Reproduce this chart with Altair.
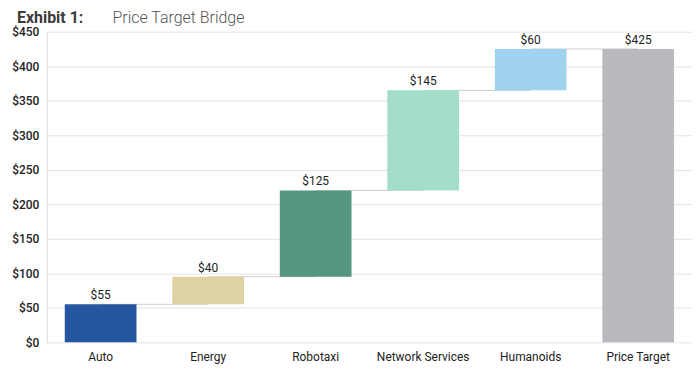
import altair as alt
import pandas as pd

categories = ["Auto", "Energy", "Robotaxi", "Network Services", "Humanoids", "Price Target"]
values = [55, 40, 125, 145, 60, 425]
colors = ["#2557a1", "#ddd2a3", "#55967f", "#a5ddcb", "#9fd3ee", "#b9babe"]
y_ticks = [0, 50, 100, 150, 200, 250, 300, 350, 400, 450]

starts, ends = [], []
run = 0
for i, v in enumerate(values):
    if i == len(values) - 1:
        starts.append(0)
        ends.append(v)
    else:
        starts.append(run)
        run += v
        ends.append(run)

df = pd.DataFrame({
    "cat": categories,
    "start": starts,
    "end": ends,
    "label": ["$" + str(v) for v in values],
    "color": colors,
})
conn = pd.DataFrame({
    "cat": categories[:-1],
    "next": categories[1:],
    "level": ends[:-1],
})

FONT = "Roboto"
xscale = alt.Scale(domain=categories, paddingInner=0.333, paddingOuter=0.167)
yscale = alt.Scale(domain=[0, 450])

x_axis = alt.Axis(title=None, labelAngle=0, labelFont=FONT, labelFontSize=12,
                  labelColor="#222", labelPadding=9, ticks=False,
                  domain=False, labelAlign="center")
y_axis = alt.Axis(title=None, values=y_ticks, labelOverlap=False,
                  labelExpr="'$' + datum.value", labelFont=FONT,
                  labelFontSize=12, labelFontWeight=500, labelColor="#222",
                  labelPadding=8, ticks=False, domain=True,
                  domainColor="#dddddd", gridColor="#e3e3e3")

rules = alt.Chart(conn).mark_rule(color="#cfcfcf", strokeWidth=1).encode(
    x=alt.X("cat:N", scale=xscale, sort=categories, axis=x_axis),
    x2="next:N",
    y=alt.Y("level:Q", scale=yscale, axis=y_axis),
)

bars = alt.Chart(df).mark_bar().encode(
    x=alt.X("cat:N", scale=xscale, sort=categories, axis=x_axis),
    y=alt.Y("start:Q", scale=yscale, axis=y_axis),
    y2="end:Q",
    color=alt.Color("color:N", scale=None),
)

labels = alt.Chart(df).mark_text(font=FONT, fontSize=12, dy=-2, color="#222",
                                 baseline="bottom").encode(
    x=alt.X("cat:N", scale=xscale, sort=categories, axis=x_axis),
    y=alt.Y("end:Q", scale=yscale, axis=y_axis),
    text="label:N",
)

t1 = alt.Chart(df.head(1)).mark_text(font=FONT, fontSize=16, fontWeight="bold",
                                     color="#3a3a3a", align="left", baseline="alphabetic").encode(
    x=alt.value(-30), y=alt.value(-9), text=alt.value("Exhibit 1:"))
t2 = alt.Chart(df.head(1)).mark_text(font=FONT, fontSize=16, fontWeight=300,
                                     color="#555555", align="left", baseline="alphabetic").encode(
    x=alt.value(66), y=alt.value(-9), text=alt.value("Price Target Bridge"))

chart = alt.layer(rules, bars, labels, t1, t2).properties(
    width=648, height=312,
    padding={"left": 39, "top": 23, "right": 0, "bottom": 30},
    autosize=alt.AutoSizeParams(type="none"),
).configure_view(stroke=None)

chart.save("out.html", embed_options={"renderer": "svg", "actions": False})
